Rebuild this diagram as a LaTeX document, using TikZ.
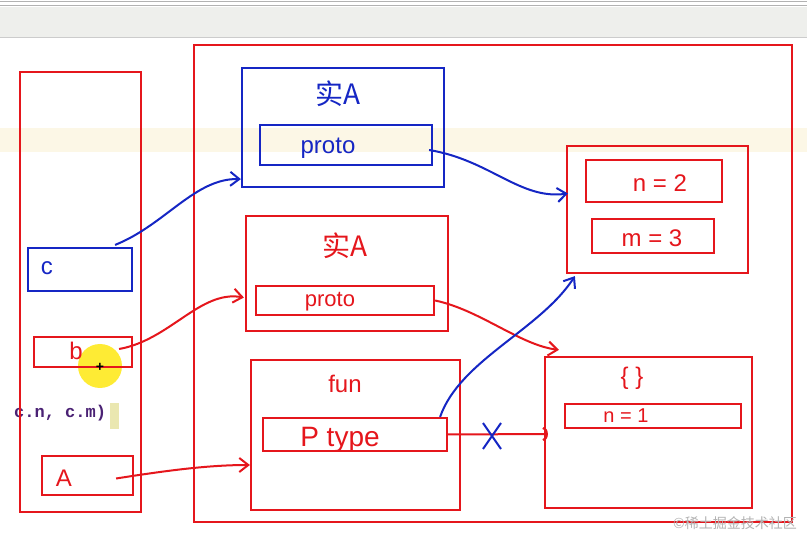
\documentclass[tikz,border=0pt]{standalone}
\usepackage{fontspec}
\setmainfont{Liberation Sans}
\setmonofont{Liberation Mono}
\newfontfamily\cjk{Noto Sans CJK SC}
\usetikzlibrary{arrows.meta,calc,shapes.misc}
\definecolor{hred}{HTML}{E5161C}
\definecolor{hblue}{HTML}{1526C4}
\definecolor{topgray}{HTML}{EEEFEC}
\definecolor{band}{HTML}{FCF7E6}
\definecolor{codepurple}{HTML}{4A2174}
\tikzset{
  box/.style={draw, line width=2.2pt, inner sep=0pt, fill=none},
  rbox/.style={box, draw=hred},
  bbox/.style={box, draw=hblue},
  hand/.style={inner sep=0pt, font=\fontsize{24}{26}\selectfont},
  conn/.style={line width=2pt, -{Straight Barb[length=9pt,width=14pt,line width=2pt]}},
}
\begin{document}
\begin{tikzpicture}[x=1pt,y=-1pt]
\useasboundingbox (0,0) rectangle (807,548);
\clip (0,0) rectangle (807,548);
% editor background
\fill[white] (0,0) rectangle (807,548);
\fill[topgray] (0,7) rectangle (807,37);
\draw[gray!60, line width=0.8pt] (0,1.5) -- (807,1.5);
\draw[gray!60, line width=0.8pt] (0,5.5) -- (807,5.5);
\draw[gray!40, line width=0.6pt] (0,37.5) -- (807,37.5);
\fill[band] (0,128) rectangle (807,152);

% code fragment
\node[anchor=west, inner sep=0pt, text=codepurple, font=\ttfamily\bfseries\fontsize{17}{19}\selectfont] (code) at (14,413) {c.n, c.m)};
\fill[yellow!25!olive!25] (110,403) rectangle (119,429);

% pointer highlight
\fill[yellow!90!orange, opacity=0.8] (100,366) circle (22);

% frames
\node[rbox, minimum width=121pt, minimum height=440pt] (stack) at (80.5,292) {};
\node[rbox, minimum width=598pt, minimum height=477pt] (heap) at (493,283.5) {};

% stack variables
\node[bbox, minimum width=104pt, minimum height=43pt] (c) at (80,269.5) {};
\node[rbox, minimum width=98pt, minimum height=30pt] (b) at (83,352) {};
\node[rbox, minimum width=91pt, minimum height=39pt] (A) at (87.5,475.5) {};
\node[hand, text=hblue] (cl) at (47,268) {c};
\node[hand, text=hred] (bl) at (76,351) {b};
\node[hand, text=hred] (Al) at (64,478) {A};
\node[inner sep=0pt, font=\fontsize{14}{14}\selectfont\bfseries] (cursor) at (100,367) {+};

% instance c
\node[bbox, minimum width=202pt, minimum height=119pt] (B1) at (343,127.5) {};
\node[bbox, minimum width=172pt, minimum height=40pt] (P1) at (346,145) {};
\node[hand, text=hblue, font=\fontsize{28}{30}\selectfont] (B1l) at (338,94) {\cjk 实A};
\node[hand, text=hblue] (P1l) at (328,148) {proto};

% instance b
\node[rbox, minimum width=202pt, minimum height=115pt] (B2) at (347,273.5) {};
\node[rbox, minimum width=178pt, minimum height=29pt] (P2) at (345,300.5) {};
\node[hand, text=hred, font=\fontsize{28}{30}\selectfont] (B2l) at (345,246) {\cjk 实A};
\node[hand, text=hred, font=\fontsize{22}{24}\selectfont] (P2l) at (330,302) {proto};

% function A
\node[rbox, minimum width=209pt, minimum height=150pt] (B3) at (355.5,435) {};
\node[rbox, minimum width=184pt, minimum height=33pt] (P3) at (355,434.5) {};
\node[hand, text=hred] (B3l) at (345,384) {fun};
\node[hand, text=hred, font=\fontsize{28}{30}\selectfont] (P3l) at (340,440) {P type};

% new prototype object
\node[rbox, minimum width=181pt, minimum height=127pt] (R1) at (657.5,209.5) {};
\node[rbox, minimum width=136pt, minimum height=42pt] (N2) at (654,181) {};
\node[rbox, minimum width=122pt, minimum height=34pt] (M3) at (653,236) {};
\node[hand, text=hred] (N2l) at (660,183) {n = 2};
\node[hand, text=hred] (M3l) at (652,238) {m = 3};

% old prototype object
\node[rbox, minimum width=207pt, minimum height=151pt] (R2) at (648.5,432.5) {};
\node[rbox, minimum width=176pt, minimum height=24pt] (N1) at (653,416) {};
\node[hand, text=hred] (R2l) at (632,378) {\{ \}};
\node[hand, text=hred, font=\fontsize{20}{22}\selectfont] (N1l) at (626,416) {n = 1};

% connectors
\draw[conn, hblue] ($(c.north east)+(-18,-2)$) .. controls (165,225) and (195,178) .. ($(B1.south west)+(0,-9)$);
\draw[conn, hblue] ($(P1.east)+(-4,5)$) .. controls (490,160) and (520,200) .. ($(R1.west)+(2,-16)$);
\draw[conn, hred] ($(b.east)+(-14,-3)$) .. controls (170,340) and (200,290) .. ($(B2.west)+(-1,24)$);
\draw[conn, hred] ($(P2.east)+(0,0)$) .. controls (480,310) and (520,345) .. ($(R2.north west)+(15,-6)$);
\draw[conn, hred] ($(A.east)+(-18,3)$) .. controls (170,470) and (210,465) .. ($(B3.west)+(0,30)$);
\draw[conn, hblue] ($(P3.north east)+(-8,0)$) .. controls (460,360) and (540,330) .. ($(R1.south west)+(9,2)$);
\draw[hred, line width=2pt, -{Arc Barb[length=5pt,width=14pt,line width=2pt]}] (P3.east) -- ($(R2.west)+(4,1.5)$);
\node[cross out, draw=hblue, line width=2pt, minimum width=16pt, minimum height=24pt, inner sep=0pt] (xmark) at (492,436) {};

% watermark
\node[anchor=east, inner sep=0pt, text=gray!60, font=\cjk\fontsize{14}{16}\selectfont] (wm) at (797,523) {©稀土掘金技术社区};
\end{tikzpicture}
\end{document}
